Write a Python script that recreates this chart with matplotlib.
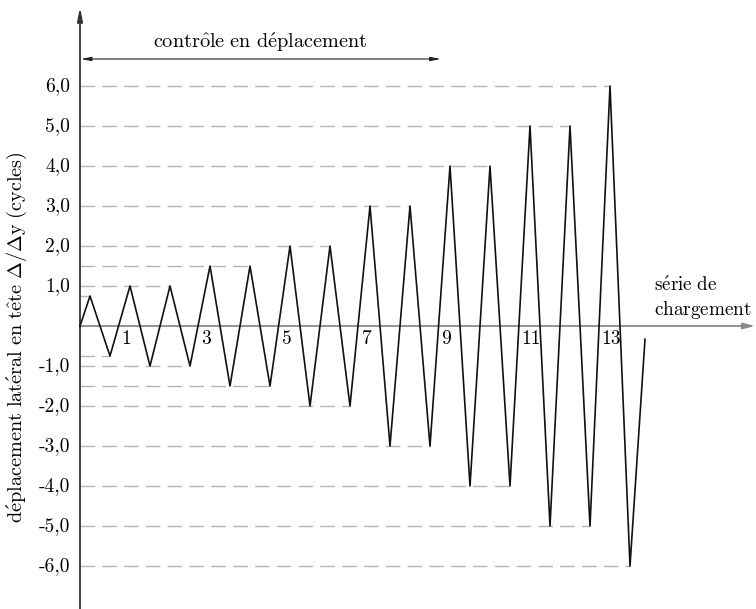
import matplotlib
matplotlib.use("Agg")
import matplotlib.pyplot as plt
import numpy as np

plt.rcParams["font.family"] = ["cmr10", "DejaVu Serif"]
plt.rcParams["mathtext.fontset"] = "cm"
plt.rcParams["axes.unicode_minus"] = False

# ── Data ──────────────────────────────────────────────────────────────────────
CYCLES = list(range(1, 15))
AMPL = [0.75, 1.0, 1.0, 1.5, 1.5, 2.0, 2.0, 3.0, 3.0, 4.0, 4.0, 5.0, 5.0, 6.0]
END_X, END_Y = 14.125, -0.33          # last (unfinished) branch
SERIES_LABELS = [1, 3, 5, 7, 9, 11, 13]
YTICKS = [-6, -5, -4, -3, -2, -1, 1, 2, 3, 4, 5, 6]
YTICK_LABELS = [f"{v:.1f}".replace(".", ",") for v in YTICKS]

# accented text via mathtext (cmr10 has no é / ô)
TXT_CTRL = r"$\mathrm{contr\hat{o}le\ en\ d\acute{e}placement}$"
TXT_SERIE = r"$\mathrm{s\acute{e}rie\ de}$" + "\n" + r"$\mathrm{chargement}$"
TXT_YLAB = (r"$\mathrm{d\acute{e}placement\ lat\acute{e}ral\ en\ t\hat{e}te\ }"
            r"\Delta/\Delta\mathrm{y}\ \mathrm{(cycles)}$")

# loading history: peak at n-0.75, trough at n-0.25
xs, ys = [0.0], [0.0]
for n, a in zip(CYCLES, AMPL):
    xs += [n - 0.75, n - 0.25]
    ys += [a, -a]
xs.append(END_X)
ys.append(END_Y)

FS = 14
FS_M = 14.6

# ── Figure ────────────────────────────────────────────────────────────────────
fig = plt.figure(figsize=(7.56, 6.09), dpi=100)
ax = fig.add_axes([0, 0, 1, 1])
ax.set_xlim(-2.0, 16.9)
ax.set_ylim(-7.075, 8.15)
for s in ax.spines.values():
    s.set_visible(False)
ax.set_xticks([])
ax.set_yticks([])

# dashed reference levels, each running to the last point at that level
C_DASH = "#b4b4b4"
for lev in sorted(set(ys[1:-1])):
    last_x = max(x for x, y in zip(xs, ys) if y == lev)
    ax.plot([0, last_x], [lev, lev], color=C_DASH, lw=1.0,
            linestyle=(0, (10.5, 5.2)), zorder=1)

# x axis (gray) and y axis (dark)
ax.annotate("", xy=(16.88, 0), xytext=(0, 0),
            arrowprops=dict(arrowstyle="-|>,head_length=0.7,head_width=0.18",
                            color="#8a8a8a", lw=1.3, shrinkA=0, shrinkB=0), zorder=2)
ax.annotate("", xy=(0, 7.97), xytext=(0, -7.1),
            arrowprops=dict(arrowstyle="-|>,head_length=0.8,head_width=0.16",
                            color="#333333", lw=1.3, shrinkA=0, shrinkB=0), zorder=3)

# loading path
ax.plot(xs, ys, color="#111111", lw=1.2, zorder=4)

# y tick labels
for v, lab in zip(YTICKS, YTICK_LABELS):
    ax.text(-0.25, v, lab, ha="right", va="center", fontsize=FS)

# series numbers
for n in SERIES_LABELS:
    ax.text(n + 0.04, -0.33, str(n), ha="left", va="center", fontsize=FS)

# displacement-control arrow
ax.annotate("", xy=(9.02, 6.675), xytext=(0.02, 6.675),
            arrowprops=dict(arrowstyle="<|-|>,head_length=0.6,head_width=0.12",
                            color="#222222", lw=0.8, shrinkA=0, shrinkB=0))
ax.text(4.5, 6.95, TXT_CTRL, ha="center", va="baseline", fontsize=FS_M)

ax.text(14.36, 0.7, TXT_SERIE, ha="left", va="center",
        fontsize=13.8, linespacing=1.25)

ax.text(-1.58, -0.28, TXT_YLAB, rotation=90, ha="center", va="center", fontsize=FS_M)

fig.savefig("out.png", dpi=100)
